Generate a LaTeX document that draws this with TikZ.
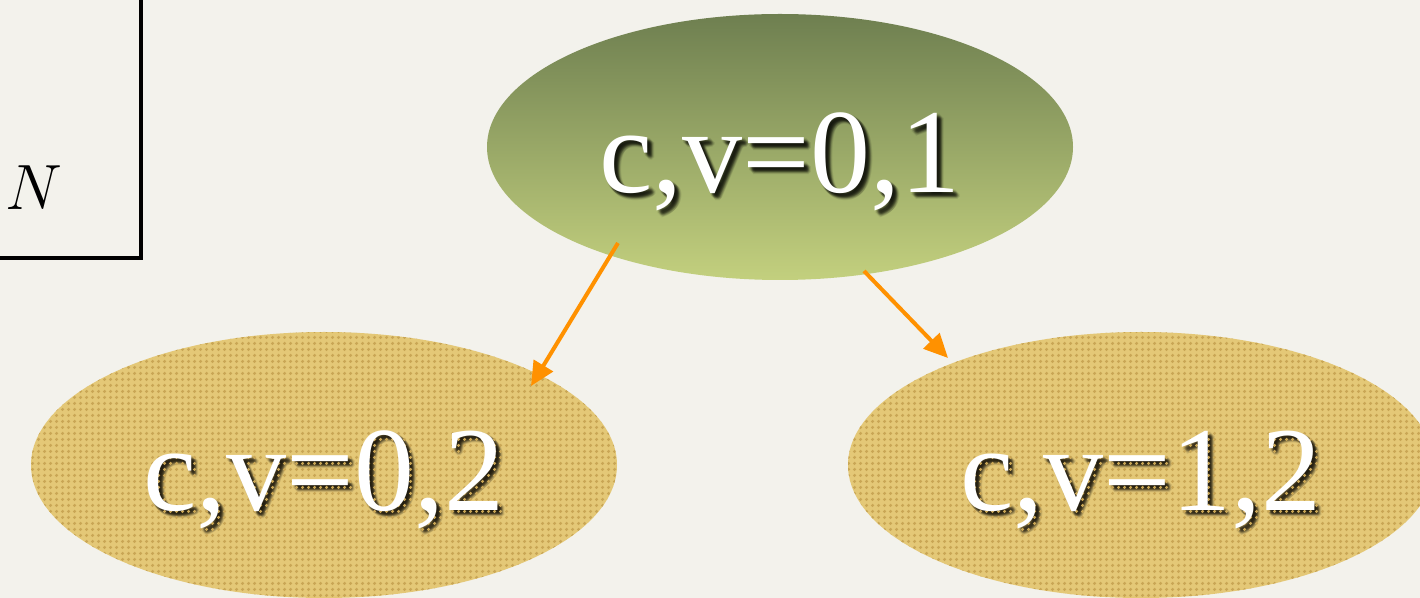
\RequirePackage{fix-cm}
\documentclass[tikz,border=0pt]{standalone}
\usepackage{fontspec}
\setmainfont{Liberation Serif}
\usetikzlibrary{arrows.meta,patterns.meta,shapes.geometric,calc}
\definecolor{paper}{HTML}{F3F2EC}
\definecolor{gtop}{HTML}{6E7F50}
\definecolor{gbot}{HTML}{C3D07E}
\definecolor{tanbase}{HTML}{E4C877}
\definecolor{tandot}{HTML}{C9A655}
\definecolor{arrowc}{HTML}{FF9100}
\tikzdeclarepattern{name=tandots, type=uncolored,
  bounding box={(0,0) and (3pt,3pt)}, tile size={(3pt,3pt)},
  code={\fill (1.5pt,1.5pt) circle (1.0pt);}}
\tikzset{
  bubble/.style={ellipse, minimum width=293pt, minimum height=133pt, inner sep=0pt,
    text=white, font=\fontsize{60}{72}\selectfont, text height=46pt, text depth=0pt},
  topbub/.style={bubble, top color=gtop, bottom color=gbot},
  leafbub/.style={bubble, fill=tanbase, postaction={pattern={tandots}, pattern color=tandot}},
  shd/.style={text=black, text opacity=0.09, inner sep=0pt,
    font=\fontsize{60}{72}\selectfont, text height=46pt, text depth=0pt},
  shadowtext/.style={path picture={
    \foreach \dx/\dy in {4/4,3/3,5/5,3/5,5/3,4/2,2/4,6/4,4/6,3/4,4/3,5/4,4/5,2/2,6/6,1/3,3/1,7/5,5/7}
      \node[shd] at ($(path picture bounding box.center)+(\dx,\dy)$) {#1};}},
  link/.style={draw=arrowc, line width=2pt, -{Triangle[length=12pt,width=11pt]}},
  frame/.style={draw=black, line width=2pt},
}
\begin{document}
\begin{tikzpicture}[x=0.5pt, y=-0.5pt]
  \useasboundingbox (0,0) rectangle (1420,598);
  \fill[paper] (0,0) rectangle (1420,598);
  % partial box with N
  \draw[frame] (-20,-20) rectangle (140.5,258.5);
  \node[font=\fontsize{32}{38}\selectfont] (nlabel) at (34,188) {$N$};
  % ellipses
  \node[topbub, shadowtext={c,v=0,1}] (top) at (780,147) {c,v=0,1};
  \node[leafbub, shadowtext={c,v=0,2}] (left) at (324,465) {c,v=0,2};
  \node[leafbub, shadowtext={c,v=1,2}] (right) at (1141,465) {c,v=1,2};
  % arrows
  \coordinate (s1) at (618,243);
  \coordinate (e1) at (531,386);
  \coordinate (s2) at (864,271);
  \coordinate (e2) at (948,358);
  \draw[link] (s1) -- (e1);
  \draw[link] (s2) -- (e2);
\end{tikzpicture}
\end{document}
